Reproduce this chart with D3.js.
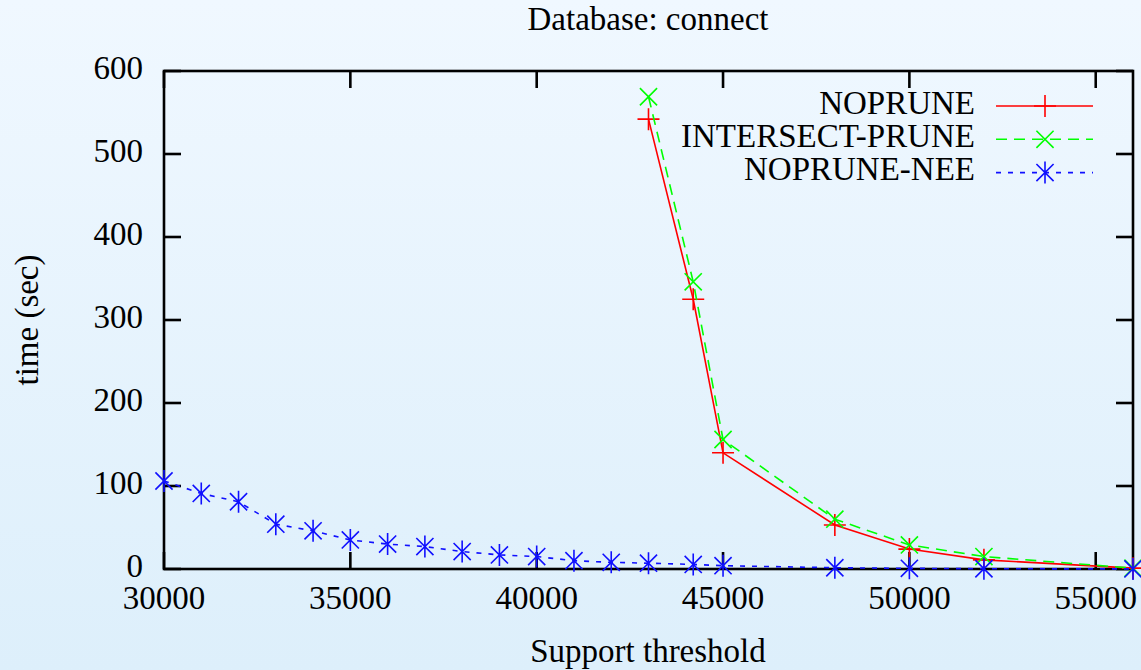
<!DOCTYPE html>
<html>
<head>
<meta charset="utf-8">
<script src="https://cdn.jsdelivr.net/npm/d3@7"></script>
<style>
    html, body { margin: 0; padding: 0; }
    body { width: 1141px; height: 670px; overflow: hidden; }
</style>
</head>
<body>
<div id="chart"></div>
<script>
// values
const chartTitle = 'Database: connect';
const xLabel = 'Support threshold';
const yLabel = 'time (sec)';
const seriesNames = ['NOPRUNE', 'INTERSECT-PRUNE', 'NOPRUNE-NEE'];

const supportPrune = [43000, 44200, 45000, 48000, 50000, 52000, 56000];
const timeNoprune = [542, 325, 140, 53, 24, 11, 1];
const timeIntersect = [569, 346, 156, 60, 29, 15, 1];

const supportNee = [30000, 31000, 32000, 33000, 34000, 35000, 36000, 37000, 38000, 39000,
    40000, 41000, 42000, 43000, 44200, 45000, 48000, 50000, 52000, 56000];
const timeNee = [106, 91, 81, 54, 46, 35, 30, 27, 21, 17,
    15, 10, 8, 7, 5.5, 4, 1.5, 0.8, 0.3, 0.1];

const xTicks = [30000, 35000, 40000, 45000, 50000, 55000];
const yTicks = [0, 100, 200, 300, 400, 500, 600];

const W = 1141;
const H = 670;
const margin = { left: 164, right: 8, top: 71, bottom: 101 };
const width = W - margin.left - margin.right;
const height = H - margin.top - margin.bottom;
const font = '"Liberation Serif", "Times New Roman", serif';
const fontSize = 33;
const tickLen = 17;

const series = [
    { name: seriesNames[0], xs: supportPrune, ys: timeNoprune, color: '#ff0000', dash: null, marker: 'plus' },
    { name: seriesNames[1], xs: supportPrune, ys: timeIntersect, color: '#00ff00', dash: '11,7', marker: 'cross' },
    { name: seriesNames[2], xs: supportNee, ys: timeNee, color: '#1010ff', dash: '5,7', marker: 'star' }
];

const svg = d3.select('#chart')
    .append('svg')
    .attr('width', W)
    .attr('height', H);

const grad = svg.append('defs')
    .append('linearGradient')
    .attr('id', 'bg')
    .attr('x1', 0).attr('y1', 0).attr('x2', 0).attr('y2', 1);
grad.append('stop').attr('offset', '0%').attr('stop-color', '#f0f8ff');
grad.append('stop').attr('offset', '100%').attr('stop-color', '#ddeffb');

svg.append('rect')
    .attr('width', W)
    .attr('height', H)
    .attr('fill', 'url(#bg)');

const x = d3.scaleLinear().domain([30000, 56000]).range([0, width]);
const y = d3.scaleLinear().domain([0, 600]).range([height, 0]);

const g = svg.append('g').attr('transform', `translate(${margin.left},${margin.top})`);

// gnuplot style point symbols
const markerPath = (type, r) => {
    const p = `M${-r},0H${r}M0,${-r}V${r}`;
    const d = r * 0.78;
    const c = `M${-d},${-d}L${d},${d}M${-d},${d}L${d},${-d}`;
    if (type === 'plus') return p;
    if (type === 'cross') return c;
    return `M0,${-r}V${r}` + c;
};

// frame and inward ticks on all four sides
g.append('rect')
    .attr('width', width)
    .attr('height', height)
    .attr('fill', 'none')
    .attr('stroke', '#000')
    .attr('stroke-width', 2.6);

const ticks = g.append('g').attr('stroke', '#000').attr('stroke-width', 2.6);
xTicks.forEach(t => {
    ticks.append('line').attr('x1', x(t)).attr('x2', x(t)).attr('y1', height).attr('y2', height - tickLen);
    ticks.append('line').attr('x1', x(t)).attr('x2', x(t)).attr('y1', 0).attr('y2', tickLen);
});
yTicks.forEach(t => {
    ticks.append('line').attr('x1', 0).attr('x2', tickLen).attr('y1', y(t)).attr('y2', y(t));
    ticks.append('line').attr('x1', width).attr('x2', width - tickLen).attr('y1', y(t)).attr('y2', y(t));
});

const text = (sel, str) => sel.append('text')
    .attr('font-family', font)
    .attr('font-size', fontSize)
    .attr('fill', '#000')
    .text(str);

xTicks.forEach(t => {
    text(g, d3.format('d')(t))
        .attr('x', x(t))
        .attr('y', height + 32)
        .attr('dominant-baseline', 'middle')
        .attr('text-anchor', 'middle');
});
yTicks.forEach(t => {
    text(g, t)
        .attr('x', -21)
        .attr('y', y(t))
        .attr('dominant-baseline', 'middle')
        .attr('text-anchor', 'end');
});

text(svg, chartTitle)
    .attr('x', 648)
    .attr('y', 22)
    .attr('dominant-baseline', 'middle')
    .attr('text-anchor', 'middle');

text(svg, xLabel)
    .attr('x', 648)
    .attr('y', 654)
    .attr('dominant-baseline', 'middle')
    .attr('text-anchor', 'middle');

text(svg, yLabel)
    .attr('transform', 'translate(30,320) rotate(-90)')
    .attr('dominant-baseline', 'middle')
    .attr('text-anchor', 'middle');

const line = d3.line()
    .x(d => x(d[0]))
    .y(d => y(d[1]));

series.forEach(s => {
    const pts = s.xs.map((v, i) => [v, s.ys[i]]);
    g.append('path')
        .datum(pts)
        .attr('fill', 'none')
        .attr('stroke', s.color)
        .attr('stroke-width', 1.6)
        .attr('stroke-dasharray', s.dash)
        .attr('d', line);

    g.selectAll(null)
        .data(pts)
        .enter()
        .append('path')
        .attr('transform', d => `translate(${x(d[0])},${y(d[1])})`)
        .attr('d', markerPath(s.marker, 11))
        .attr('fill', 'none')
        .attr('stroke', s.color)
        .attr('stroke-width', 1.6);
});

// legend, top right inside the frame
const legend = svg.append('g');
series.forEach((s, i) => {
    const ly = 106 + i * 33.3;
    text(legend, s.name)
        .attr('x', 975)
        .attr('y', ly)
        .attr('dominant-baseline', 'middle')
        .attr('text-anchor', 'end');
    legend.append('line')
        .attr('x1', 996).attr('x2', 1093)
        .attr('y1', ly).attr('y2', ly)
        .attr('stroke', s.color)
        .attr('stroke-width', 1.6)
        .attr('stroke-dasharray', s.dash);
    legend.append('path')
        .attr('transform', `translate(1045,${ly})`)
        .attr('d', markerPath(s.marker, 11))
        .attr('fill', 'none')
        .attr('stroke', s.color)
        .attr('stroke-width', 1.6);
});
</script>
</body>
</html>
